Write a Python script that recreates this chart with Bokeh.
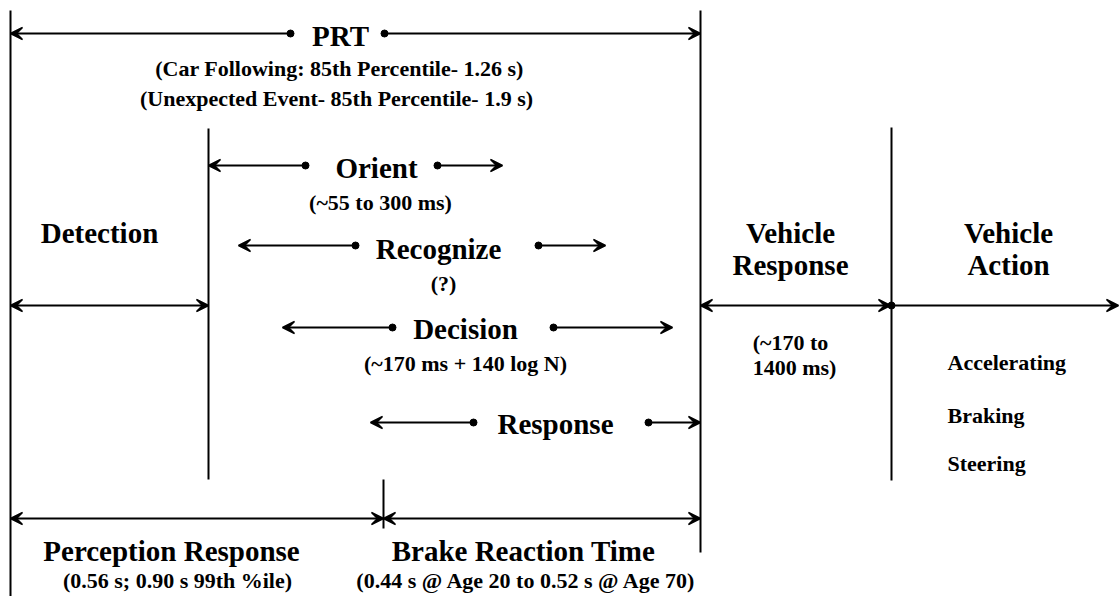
from bokeh.plotting import figure
from bokeh.models import Range1d, Arrow, VeeHead, ColumnDataSource
from bokeh.core.properties import value
from bokeh.embed import file_html
from bokeh.resources import INLINE

# ---- diagram data (picture pixel coordinates) ----
# vertical dividers
vx = [10, 700, 208, 383, 891]
vy0 = [10, 10, 128, 479, 127]
vy1 = [596, 552, 479, 528, 480]

# one-headed arrows: start at a dot, head at end
a1_x0 = [290, 384, 305, 437, 355, 538, 392, 553, 473, 648, 891]
a1_x1 = [10, 700, 208, 502, 238, 605, 282, 672, 370, 700, 1118]
a1_y = [33, 33, 165, 165, 245, 245, 327, 327, 422, 422, 305]

# two-headed arrows
a2_x0 = [10, 700, 10, 383]
a2_x1 = [208, 890, 383, 700]
a2_y = [305, 305, 518, 518]

# big labels
big_text = ["PRT", "Orient", "Detection", "Recognize", "Decision", "Response",
            "Vehicle", "Response", "Vehicle", "Action",
            "Perception Response", "Brake Reaction Time"]
big_x = [340, 376, 99, 438, 465, 555, 790, 790, 1008, 1008, 171, 523]
big_y = [35, 167, 232, 248, 328, 423, 232, 264, 232, 264, 550, 550]

# small labels (centred)
small_text = ["(Car Following: 85th Percentile- 1.26 s)",
              "(Unexpected Event- 85th Percentile- 1.9 s)",
              "(~55 to 300 ms)", "(?)", "(~170 ms + 140 log N)",
              "(~170 to", "1400 ms)",
              "(0.56 s; 0.90 s 99th %ile)",
              "(0.44 s @ Age 20 to 0.52 s @ Age 70)"]
small_x = [339, 336, 380, 443, 465, 790, 794, 177, 526]
small_y = [68, 98, 202, 283, 363, 342, 367, 580, 580]

# vehicle actions (left aligned)
act_text = ["Accelerating", "Braking", "Steering"]
act_x = [947, 947, 947]
act_y = [362, 415, 463]

FONT = value("Liberation Serif")

p = figure(width=1120, height=596, output_backend="svg", toolbar_location=None,
           x_range=Range1d(0, 1120), y_range=Range1d(596, 0), min_border=0)
p.axis.visible = False
p.grid.visible = False
p.outline_line_color = None
p.background_fill_color = "white"
p.border_fill_color = "white"

p.segment(x0=vx, y0=vy0, x1=vx, y1=vy1, line_color="black", line_width=2)

head = dict(size=12, fill_color="black", line_color="black", line_width=1.5)
src1 = ColumnDataSource(dict(x0=a1_x0, x1=a1_x1, y=a1_y))
p.add_layout(Arrow(source=src1, x_start="x0", y_start="y", x_end="x1", y_end="y",
                   line_color="black", line_width=2, end=VeeHead(**head)))
src2 = ColumnDataSource(dict(x0=a2_x0, x1=a2_x1, y=a2_y))
p.add_layout(Arrow(source=src2, x_start="x0", y_start="y", x_end="x1", y_end="y",
                   line_color="black", line_width=2,
                   start=VeeHead(**head), end=VeeHead(**head)))

p.scatter(x=a1_x0, y=a1_y, size=7, color="black")

p.text(x=big_x, y=big_y, text=big_text, text_font=FONT, text_font_style="bold",
       text_font_size="29px", text_align="center", text_baseline="middle", text_color="black")
p.text(x=small_x, y=small_y, text=small_text, text_font=FONT, text_font_style="bold",
       text_font_size="22px", text_align="center", text_baseline="middle", text_color="black")
p.text(x=act_x, y=act_y, text=act_text, text_font=FONT, text_font_style="bold",
       text_font_size="22px", text_align="left", text_baseline="middle", text_color="black")

open("out.html", "w").write(file_html(p, INLINE))
